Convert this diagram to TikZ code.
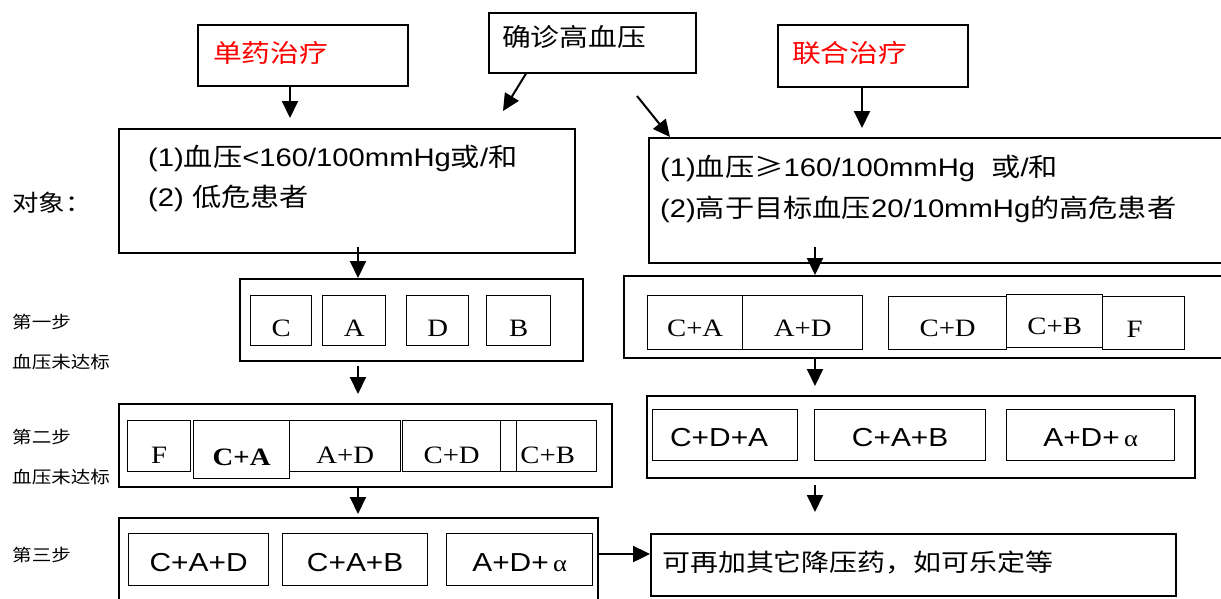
\documentclass[tikz,border=0pt]{standalone}
\usepackage{fontspec}
\setmainfont[FakeStretch=1.15]{Liberation Sans}
\newfontfamily\tms[FakeStretch=1.15]{Liberation Serif}
\newfontfamily\cj[FakeStretch=1.15]{Noto Sans CJK SC}
\usetikzlibrary{arrows.meta}
\newcommand\myfs[1]{\fontsize{#1}{#1}\selectfont}
\definecolor{redtxt}{RGB}{255,0,0}
\tikzset{
  bx/.style={draw, line width=1.6pt, inner sep=0pt, anchor=north west},
  ib/.style={draw, line width=1.3pt, inner sep=0pt, anchor=north west, font=\tms\myfs{25}},
  ia/.style={draw, line width=1.3pt, inner sep=0pt, anchor=north west, font=\myfs{26}},
  low/.style={text height=#1, text depth=0pt},
  txt/.style={inner sep=0pt, anchor=west},
  lab/.style={inner sep=0pt, anchor=west, font=\cj\myfs{17}},
  arr/.style={line width=2pt, -{Triangle[length=17pt,width=16pt]}},
}
\begin{document}
\begin{tikzpicture}[x=1pt,y=-1pt]
\useasboundingbox (0,0) rectangle (1221,598);
% top boxes
\node[bx, minimum width=210, minimum height=61] (dan) at (197,24) {};
\node[txt, font=\cj\myfs{25}, text=redtxt] (tdan) at (213,53) {单药治疗};
\node[bx, minimum width=207, minimum height=60] (qz) at (488,12) {};
\node[txt, font=\cj\myfs{25}] (tqz) at (502,37) {确诊高血压};
\node[bx, minimum width=190, minimum height=62] (lh) at (777,24) {};
\node[txt, font=\cj\myfs{25}, text=redtxt] (tlh) at (792,53) {联合治疗};
% object boxes
\node[bx, minimum width=456, minimum height=124] (L1) at (118,128) {};
\node[txt, font=\myfs{25.4}] (L1a) at (148,158) {(1){\cj 血压}<160/100mmHg{\cj 或}/{\cj 和}};
\node[txt, font=\myfs{25.4}] (L1b) at (148,198) {(2) {\cj 低危患者}};
\node[bx, minimum width=620, minimum height=125] (R1) at (648,137) {};
\node[txt, font=\myfs{25.4}] (R1a) at (660,168) {(1){\cj 血压≥}160/100mmHg\ \ {\cj 或}/{\cj 和}};
\node[txt, font=\myfs{25.4}] (R1b) at (660,209) {(2){\cj 高于目标血压}20/10mmHg{\cj 的高危患者}};
\node[txt, font=\cj\myfs{23}] (obj) at (12,203) {对象：};
% side labels
\node[lab] (s1) at (12,322) {第一步};
\node[lab] (u1) at (12,362) {血压未达标};
\node[lab] (s2) at (12,437) {第二步};
\node[lab] (u2) at (12,477) {血压未达标};
\node[lab] (s3) at (12,555) {第三步};
% step 1 left
\node[bx, minimum width=343, minimum height=82] (S1L) at (239,278) {};
\node[ib, low=32pt, minimum width=61, minimum height=50] (c1) at (250,295) {C};
\node[ib, low=32pt, minimum width=63, minimum height=50] (a1) at (322,295) {A};
\node[ib, low=32pt, minimum width=62, minimum height=50] (d1) at (406,295) {D};
\node[ib, low=32pt, minimum width=64, minimum height=50] (b1) at (486,295) {B};
% step 1 right
\node[bx, minimum width=640, minimum height=82] (S1R) at (623,275) {};
\node[ib, low=27pt, minimum width=95, minimum height=54] (ca1) at (647,295) {C+A};
\node[ib, low=27pt, minimum width=120, minimum height=54] (ad1) at (742,295) {A+D};
\node[ib, low=27pt, minimum width=118, minimum height=53] (cd1) at (888,296) {C+D};
\node[ib, low=27pt, minimum width=96, minimum height=53] (cb1) at (1006,294) {C+B};
\node[ib, low=29pt, minimum width=82, minimum height=53] (f1) at (1102,296) {F\hspace*{18pt}};
% step 2 left
\node[bx, minimum width=493, minimum height=83] (S2L) at (118,403) {};
\node[ib, low=35pt, minimum width=63, minimum height=51] (f2) at (127,420) {F};
\node[ib, low=31pt, minimum width=96, minimum height=58, font=\tms\bfseries\myfs{25}] (ca2) at (193,420) {C+A};
\node[ib, low=35pt, minimum width=111, minimum height=51] (ad2) at (289,420) {A+D};
\node[ib, low=35pt, minimum width=98, minimum height=51] (cd2) at (402,420) {C+D};
\node[ib, minimum width=16, minimum height=51] (sm2) at (500,420) {};
\node[ib, low=35pt, minimum width=80, minimum height=51] (cb2) at (516,420) {C+B\hspace*{18pt}};
% step 2 right
\node[bx, minimum width=548, minimum height=82] (S2R) at (646,395) {};
\node[ia, low=23pt, minimum width=145, minimum height=51] (cda) at (652,409) {C+D+A\hspace*{12pt}};
\node[ia, low=23pt, minimum width=171, minimum height=51] (cab) at (814,409) {C+A+B};
\node[ia, low=23pt, minimum width=168, minimum height=51] (ada) at (1006,409) {A+D+\,{\tms\myfs{23}α}};
% step 3 left
\node[bx, minimum width=479, minimum height=100] (S3L) at (118,517) {};
\node[ia, low=23pt, minimum width=140, minimum height=52] (cad3) at (128,533) {C+A+D};
\node[ia, low=23pt, minimum width=145, minimum height=52] (cab3) at (282,533) {C+A+B};
\node[ia, low=23pt, minimum width=146, minimum height=52] (ada3) at (446,533) {A+D+\,{\tms\myfs{23}α}};
% final box
\node[bx, minimum width=525, minimum height=62] (fin) at (650,533) {};
\node[txt, font=\cj\myfs{24.3}] (tfin) at (662,562) {可再加其它降压药，如可乐定等};
% arrow coordinates
\coordinate (e1) at (290,118);
\coordinate (e2) at (503,111);
\coordinate (b3) at (637,96);
\coordinate (e3) at (670,137);
\coordinate (e4) at (862,128);
\coordinate (b5) at (358,247);
\coordinate (b6) at (358,366);
\coordinate (e6) at (358,394);
\coordinate (b7) at (358,488);
\coordinate (e7) at (358,514);
\coordinate (b8) at (815,247);
\coordinate (b9) at (815,358);
\coordinate (e9) at (815,386);
\coordinate (b10) at (815,485);
\coordinate (e10) at (815,512);
% arrows
\draw[arr] (dan.south -| e1) -- (e1);
\draw[arr] (qz.south -| 526,0) -- (e2);
\draw[arr] (b3) -- (e3);
\draw[arr] (lh.south -| e4) -- (e4);
\draw[arr] (b5) -- (S1L.north -| b5);
\draw[arr] (b6) -- (e6);
\draw[arr] (b7) -- (e7);
\draw[arr] (b8) -- (S1R.north -| b8);
\draw[arr] (b9) -- (e9);
\draw[arr] (b10) -- (e10);
\draw[arr, line width=2.4pt] (S3L.east |- 0,554) -- (fin.west |- 0,554);
\end{tikzpicture}
\end{document}
